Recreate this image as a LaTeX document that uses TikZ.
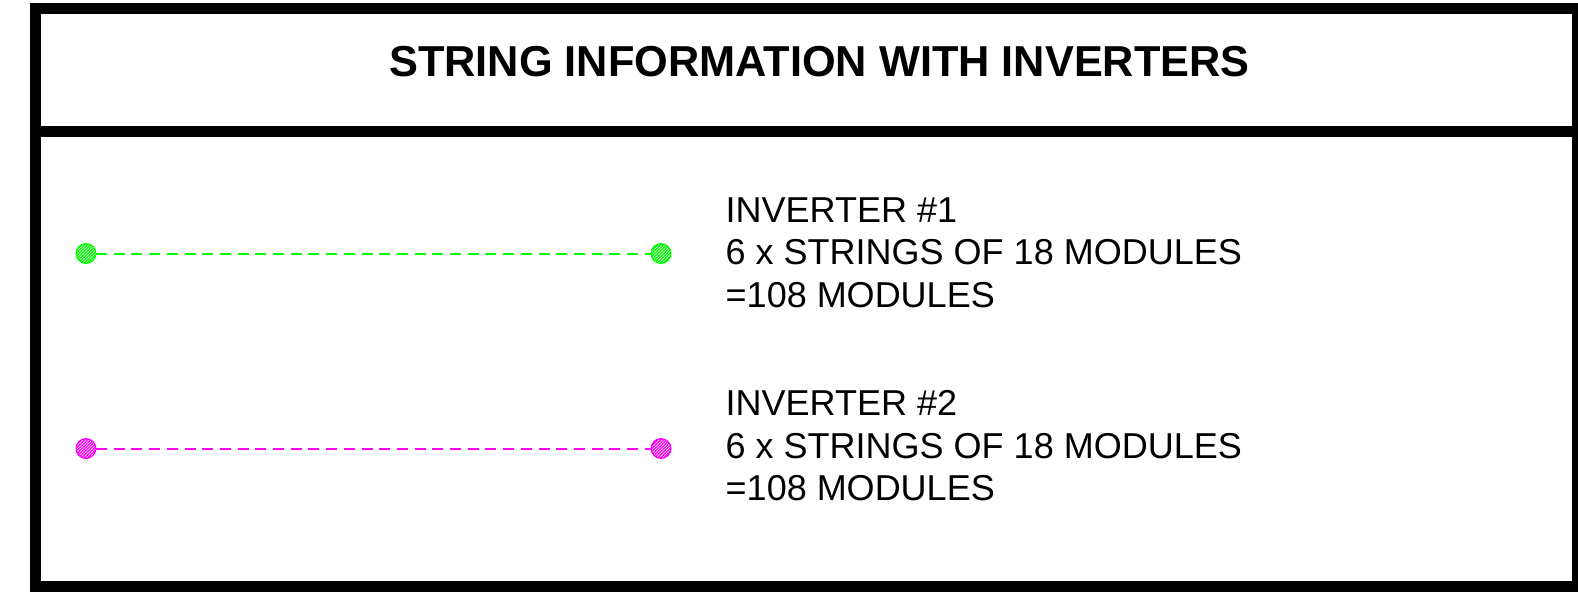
\documentclass[tikz,border=0pt]{standalone}
\usepackage{fontspec}
\setmainfont{Liberation Sans}
\usetikzlibrary{patterns}
\definecolor{strgreen}{RGB}{0,255,0}
\definecolor{strmag}{RGB}{255,0,255}
\tikzset{
  frame/.style={line width=11pt, draw=black},
  body/.style={anchor=base west, inner sep=0pt, font=\fontsize{36}{40}\selectfont},
  title/.style={anchor=base, inner sep=0pt, font=\fontsize{43.3}{48}\selectfont\bfseries},
  wire/.style={line width=2pt, dash pattern=on 11pt off 6.7pt, dash phase=7.7pt},
}
\newcommand{\hdot}[2]{%
  \fill[#1] (#2) circle (10.5pt);
  \fill[pattern=north east lines, pattern color=white] (#2) circle (9pt);
}
\begin{document}
\begin{tikzpicture}[x=1pt,y=-1pt]
\useasboundingbox (0,0) rectangle (1578,592);
\fill[white] (0,0) rectangle (1578,592);
\draw[frame] (35.5,8.5) rectangle (1577.5,586.5);
\draw[frame] (30,131.5) -- (1578,131.5);
\node[title] (ttl) at (819.5,76.7) {STRING INFORMATION WITH INVERTERS};
% inverter 1
\coordinate (a1) at (86,253.5);
\coordinate (b1) at (661,253.5);
\draw[wire, strgreen] (a1) -- (b1);
\hdot{strgreen}{a1}
\hdot{strgreen}{b1}
\node[body] (i1a) at (725.5,222) {INVERTER \#1};
\node[body] (i1b) at (725.5,264.5) {6 x STRINGS OF 18 MODULES};
\node[body] (i1c) at (725.5,307) {=108 MODULES};
% inverter 2
\coordinate (a2) at (86,448.5);
\coordinate (b2) at (661,448.5);
\draw[wire, strmag] (a2) -- (b2);
\hdot{strmag}{a2}
\hdot{strmag}{b2}
\node[body] (i2a) at (725.5,415.5) {INVERTER \#2};
\node[body] (i2b) at (725.5,458) {6 x STRINGS OF 18 MODULES};
\node[body] (i2c) at (725.5,500.5) {=108 MODULES};
\end{tikzpicture}
\end{document}
